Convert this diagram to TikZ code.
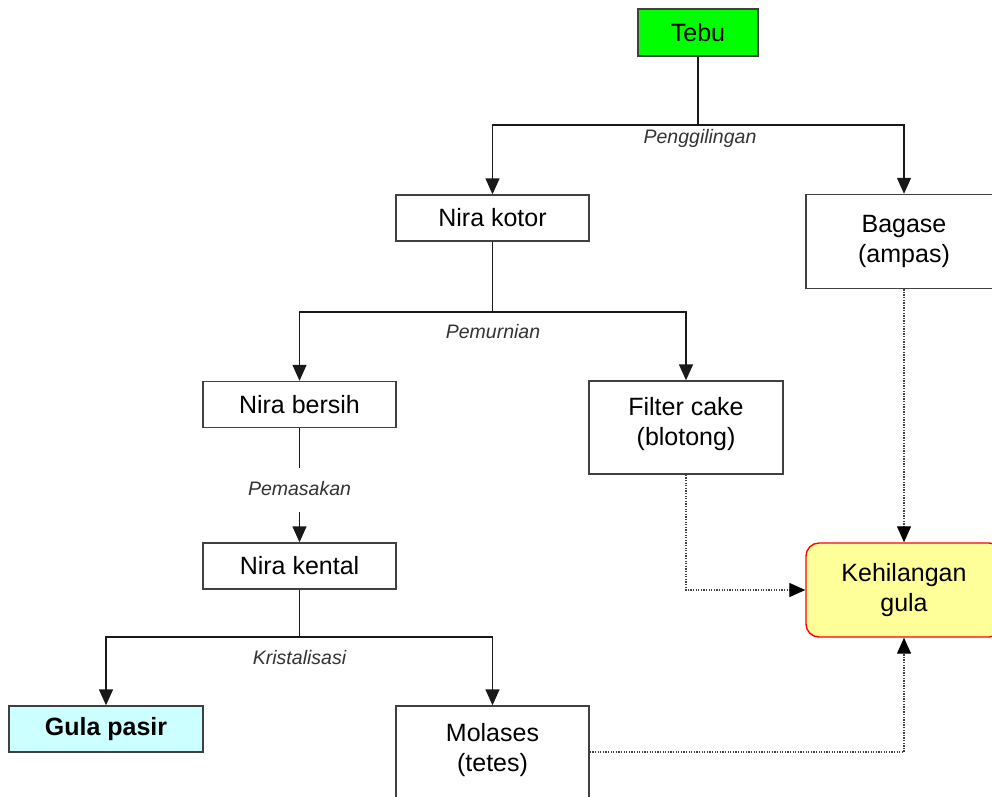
\documentclass[tikz,border=0pt]{standalone}
\usepackage{fontspec}
\setmainfont{Liberation Sans}
\usetikzlibrary{arrows.meta}
\begin{document}
\begin{tikzpicture}[x=1pt,y=-1pt,
  box/.style={draw=black!75,line width=1.4pt,inner sep=0pt,align=center,
    font=\fontsize{25}{30}\selectfont},
  flow/.style={line width=1.4pt,draw=black!90,-{Triangle[width=14pt,length=16pt]}},
  plain/.style={line width=1.4pt,draw=black!90},
  loss/.style={line width=1.3pt,draw=black!75,dash pattern=on 1.3pt off 1.3pt,
    -{Triangle[width=14pt,length=16pt,color=black]}},
  steplabel/.style={font=\fontsize{19.5}{23}\selectfont\itshape,text=black!80,inner sep=1pt}]
\clip (0,0) rectangle (992,796);
\fill[white] (0,0) rectangle (992,796);

% process boxes
\node[box,fill={rgb,255:red,0;green,255;blue,0},minimum width=120pt,minimum height=47pt] (tebu) at (698,32.5) {Tebu};
\node[box,minimum width=193pt,minimum height=46pt] (kotor) at (492.5,218) {Nira kotor};
\node[box,minimum width=196pt,minimum height=94pt] (bagase) at (904,241.5) {Bagase\\(ampas)\rule[-6pt]{0pt}{0pt}};
\node[box,minimum width=193pt,minimum height=46pt] (bersih) at (299.5,404.5) {Nira bersih};
\node[box,minimum width=194pt,minimum height=93pt] (filter) at (686,427.5) {Filter cake\\(blotong)\rule[-12pt]{0pt}{0pt}};
\node[box,minimum width=193pt,minimum height=46pt] (kental) at (299.5,566) {Nira kental};
\node[box,draw={rgb,255:red,255;green,0;blue,0},fill={rgb,255:red,255;green,255;blue,153},rounded corners=13pt,
  minimum width=196pt,minimum height=94pt] (hilang) at (904,590) {Kehilangan\\gula\rule[-6pt]{0pt}{0pt}};
\node[box,fill={rgb,255:red,204;green,255;blue,255},minimum width=194pt,minimum height=46pt,
  font=\fontsize{25}{30}\selectfont\bfseries] (gula) at (106,729) {Gula pasir};
\node[box,minimum width=193pt,minimum height=104pt] (molases) at (492.5,758) {Molases\\(tetes)\rule[-22pt]{0pt}{0pt}};

% branch points
\coordinate (j1) at (698,125);
\coordinate (j2) at (492.5,312);
\coordinate (j3) at (299.5,637);

% Penggilingan
\draw[plain] (tebu.south) -- (j1);
\draw[flow] (j1) -| (kotor.north);
\draw[flow] (j1) -| (bagase.north);
\node[steplabel] (lgiling) at (700,138.5) {Penggilingan};

% Pemurnian
\draw[plain] (kotor.south) -- (j2);
\draw[flow] (j2) -| (bersih.north);
\draw[flow] (j2) -| (filter.north);
\node[steplabel] (lmurni) at (493,331.5) {Pemurnian};

% Pemasakan
\node[steplabel] (lmasak) at (299.5,489) {Pemasakan};
\coordinate (m1) at (299.5,468);
\coordinate (m2) at (299.5,512);
\draw[plain] (bersih.south) -- (m1);
\draw[flow] (m2) -- (kental.north);

% Kristalisasi
\draw[plain] (kental.south) -- (j3);
\draw[flow] (j3) -| (gula.north);
\draw[flow] (j3) -| (molases.north);
\node[steplabel] (lkristal) at (299.5,658) {Kristalisasi};

% losses
\draw[loss] (bagase.south) -- (hilang.north);
\draw[loss] (filter.south) |- (hilang.west);
\draw[loss] (molases.east |- 0,752) -| (hilang.south);
\end{tikzpicture}
\end{document}
